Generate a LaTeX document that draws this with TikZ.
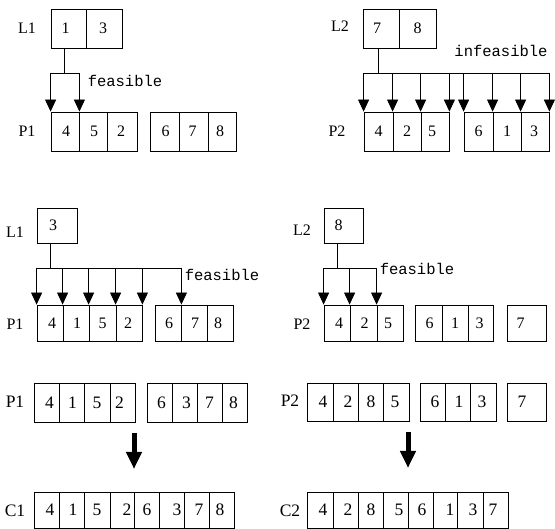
\documentclass[tikz,border=0pt]{standalone}
\usepackage{fontspec}
\setmainfont{Liberation Serif}
\newfontfamily\monofnt{Liberation Mono}
\usetikzlibrary{arrows.meta}
\newcommand\mkrow[5]{%
  \foreach \a/\b/\t/\s [count=\i] in {#5}{%
    \node[cell, minimum width={(\b-\a)*1pt}, minimum height={(#3-#2)*1pt}] (#1-\i) at ({(\a+\b)/2},{(#2+#3)/2}) {};
    \node[#4] (#1-t\i) at ({(\a+\b)/2+\s},{(#2+#3)/2}) {\t};
  }}
\begin{document}
\begin{tikzpicture}[x=1pt,y=-1pt,
  cell/.style={draw, line width=0.8pt, inner sep=0pt, rectangle},
  numtop/.style={inner sep=0pt, font=\fontsize{16}{18}\selectfont},
  numbot/.style={inner sep=0pt, font=\fontsize{17.5}{20}\selectfont},
  lbltop/.style={inner sep=0pt, font=\fontsize{16}{18}\selectfont},
  lblbot/.style={inner sep=0pt, font=\fontsize{17.5}{20}\selectfont},
  note/.style={inner sep=0pt, font=\monofnt\fontsize{15.5}{18}\selectfont},
  link/.style={line width=0.8pt},
  drop/.style={line width=0.8pt, -{Triangle[width=11pt,length=12pt,fill=black]}},
  bigarrow/.style={line width=5pt, -{Triangle[width=15pt,length=17pt]}}
]
\useasboundingbox[fill=white] (0,0) rectangle (555,529);

% ---------- top left ----------
\mkrow{tlL}{9}{48}{numtop}{51/86/1/-3, 86/122/3/-1}
\mkrow{tlP}{112}{151}{numtop}{51/79/4/1, 79/107/5/1, 107/137/2/-1}
\mkrow{tlQ}{112}{151}{numtop}{150/179/6/1, 179/208/7/-1, 208/236/8/-2}
\node[lbltop] (tlLl) at (27,28) {L1};
\node[lbltop] (tlPl) at (27,131) {P1};
\coordinate (tlj) at (64,73);
\draw[link] (tlL-1.south -| tlj) -- (tlj);
\draw[link] (tlP-1.north west |- tlj) -- (tlP-1.north east |- tlj);
\foreach \t in {tlP-1.north west, tlP-1.north east}
  \draw[drop] (\t |- tlj) -- (\t);
\node[note] (tlf) at (125,81) {feasible};

% ---------- top right ----------
\mkrow{trL}{9}{48}{numtop}{363/399/7/-4, 399/436/8/0}
\mkrow{trP}{112}{151}{numtop}{364/393/4/0, 393/421/2/0, 421/449/5/-3}
\mkrow{trQ}{112}{151}{numtop}{464/493/6/0, 493/521/1/0, 521/549/3/-1}
\node[lbltop] (trLl) at (340,26) {L2};
\node[lbltop] (trPl) at (337,131) {P2};
\coordinate (trj) at (378,73);
\draw[link] (trL-1.south -| trj) -- (trj);
\draw[link] (trP-1.north west |- trj) -- (trQ-3.north east |- trj);
\foreach \t in {trP-1.north west, trP-2.north west, trP-3.north west, trP-3.north east,
                trQ-1.north west, trQ-2.north west, trQ-3.north west, trQ-3.north east}
  \draw[drop] (\t |- trj) -- (\t);
\node[note] (trf) at (501,51) {infeasible};

% ---------- middle left ----------
\mkrow{mlL}{208}{243}{numtop}{37/77/3/-4}
\mkrow{mlP}{305}{341}{numtop}{37/63/4/2, 63/89/1/1, 89/116/5/0, 116/142/2/-1}
\mkrow{mlQ}{305}{341}{numtop}{155/181/6/1, 181/207/7/1, 207/233/8/-2}
\node[lbltop] (mlLl) at (15,232) {L1};
\node[lbltop] (mlPl) at (15,324) {P1};
\coordinate (mlj) at (50,268);
\draw[link] (mlL-1.south -| mlj) -- (mlj);
\draw[link] (mlP-1.north west |- mlj) -- (mlQ-1.north east |- mlj);
\foreach \t in {mlP-1.north west, mlP-2.north west, mlP-3.north west, mlP-4.north west,
                mlP-4.north east, mlQ-1.north east}
  \draw[drop] (\t |- mlj) -- (\t);
\node[note] (mlf) at (222,275) {feasible};

% ---------- middle right ----------
\mkrow{mrL}{208}{243}{numtop}{324/363/8/-5}
\mkrow{mrP}{305}{341}{numtop}{324/350/4/2, 350/377/2/1, 377/403/5/-2}
\mkrow{mrQ}{305}{341}{numtop}{415/442/6/1, 442/468/1/0, 468/493/3/-1}
\mkrow{mrR}{305}{341}{numtop}{507/546/7/-6}
\node[lbltop] (mrLl) at (302,230) {L2};
\node[lbltop] (mrPl) at (302,324) {P2};
\coordinate (mrj) at (337,268);
\draw[link] (mrL-1.south -| mrj) -- (mrj);
\draw[link] (mrP-1.north west |- mrj) -- (mrP-3.north west |- mrj);
\foreach \t in {mrP-1.north west, mrP-2.north west, mrP-3.north west}
  \draw[drop] (\t |- mrj) -- (\t);
\node[note] (mrf) at (417,269) {feasible};

% ---------- bottom left ----------
\mkrow{blP}{383}{422}{numbot}{34/59/4/3, 59/84/1/1, 84/110/5/0, 110/135/2/-3}
\mkrow{blQ}{383}{422}{numbot}{147/172/6/2, 172/197/3/2, 197/222/7/0, 222/247/8/-1}
\mkrow{blC}{492}{528}{numbot}{34/59/4/3.5, 59/84/1/1.5, 84/110/5/0, 110/134/2/5, 134/159/6/0.5, 159/184/3/5.5, 184/209/7/2.5, 209/234/8/-1.5}
\node[lblbot] (blPl) at (15,402) {P1};
\node[lblbot] (blCl) at (15,511) {C1};
\coordinate (bla) at (134,433);
\coordinate (blb) at (134,469);
\draw[bigarrow] (bla) -- (blb);

% ---------- bottom right ----------
\mkrow{brP}{383}{421}{numbot}{307/333/4/3, 333/358/2/2.5, 358/383/8/0.5, 383/409/5/-1}
\mkrow{brQ}{383}{421}{numbot}{420/445/6/2.5, 445/470/1/1.5, 470/496/3/-1}
\mkrow{brR}{383}{421}{numbot}{507/546/7/-4.5}
\mkrow{brC}{492}{528}{numbot}{307/333/4/3, 333/358/2/2.5, 358/383/8/0.5, 383/408/5/3.5, 408/433/6/1.5, 433/457/1/5, 457/483/3/3, 483/508/7/-2.5}
\node[lblbot] (brPl) at (290,401) {P2};
\node[lblbot] (brCl) at (290,511) {C2};
\coordinate (bra) at (408,432);
\coordinate (brb) at (408,468);
\draw[bigarrow] (bra) -- (brb);
\end{tikzpicture}
\end{document}
